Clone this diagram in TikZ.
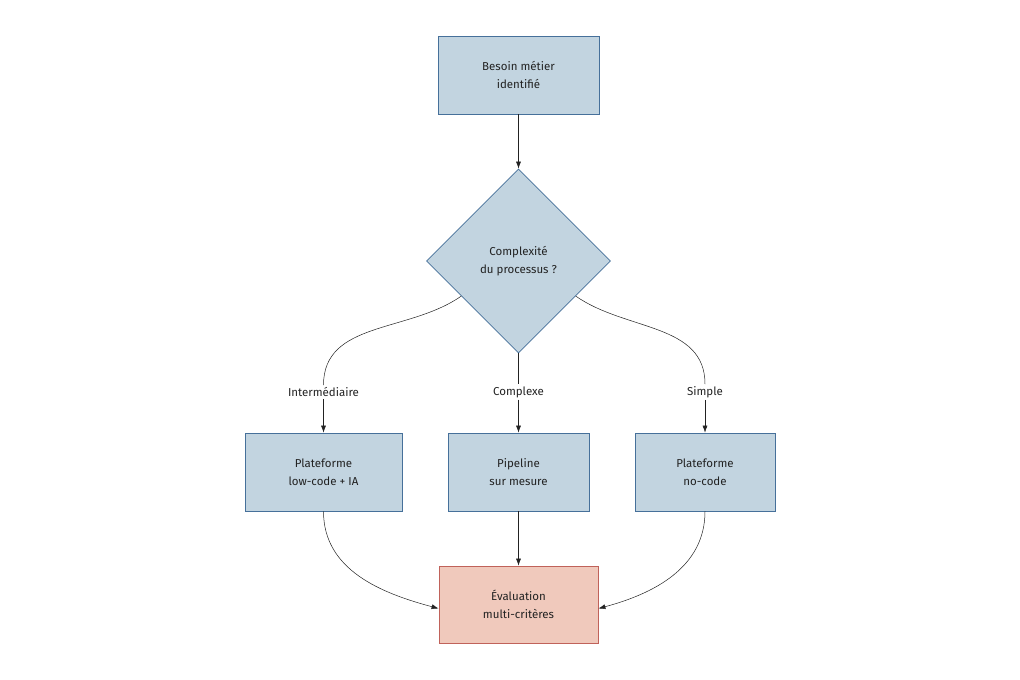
\documentclass[tikz,border=0pt]{standalone}
\usepackage{fontspec}
\setmainfont{Fira Sans}
\usetikzlibrary{shapes.geometric,arrows.meta,calc}
\definecolor{bfill}{HTML}{C2D4E0}
\definecolor{bdraw}{HTML}{46709A}
\definecolor{rfill}{HTML}{F0C9BC}
\definecolor{rdraw}{HTML}{C0625A}
\definecolor{txt}{HTML}{222222}
\begin{document}
\begin{tikzpicture}[x=1pt,y=-1pt,
  box/.style={draw=bdraw,fill=bfill,line width=0.8pt,minimum height=78pt,align=center,text=txt,font=\fontsize{11.5}{18}\selectfont,inner sep=0pt},
  rbox/.style={box,draw=rdraw,fill=rfill},
  lbl/.style={text=txt,font=\fontsize{11.5}{14}\selectfont,inner sep=2pt},
  conn/.style={draw=txt,line width=0.5pt},
  arr/.style={conn,-{Latex[length=7pt,width=5pt]}}]
\useasboundingbox (0,0) rectangle (1020,680);
\node[box,minimum width=161pt] (top) at (518.5,75) {Besoin métier\\identifié};
\node[diamond,draw=bdraw,fill=bfill,line width=0.8pt,minimum width=184pt,minimum height=184pt,inner sep=0pt,align=center,text=txt,font=\fontsize{11.5}{18}\selectfont] (dia) at (518.5,261) {Complexité\\du processus ?};
\node[box,minimum width=157pt] (lc) at (323.5,472) {Plateforme\\low-code + IA};
\node[box,minimum width=141pt] (pm) at (518.5,472) {Pipeline\\sur mesure};
\node[box,minimum width=140pt] (nc) at (705,472) {Plateforme\\no-code};
\node[rbox,minimum width=159pt,minimum height=77pt] (ev) at (518.5,604.5) {Évaluation\\multi-critères};
\node[lbl] (l1) at (323.5,392) {Intermédiaire};
\node[lbl] (l2) at (518.5,392) {Complexe};
\node[lbl] (l3) at (705,392) {Simple};
\coordinate (dl) at ($(dia.west)!0.38!(dia.south)$);
\coordinate (dr) at ($(dia.east)!0.38!(dia.south)$);
\draw[arr] (top) -- (dia.north);
\draw[conn] (dl) to[out=-145,in=90] (l1.north);
\draw[arr] (l1.south) -- (lc.north);
\draw[conn] (dia.south) -- (l2.north);
\draw[arr] (l2.south) -- (pm.north);
\draw[conn] (dr) to[out=-35,in=90] (l3.north);
\draw[arr] (l3.south) -- (nc.north);
\draw[arr] (lc.south) to[out=-90,in=165] ([yshift=-4pt]ev.west);
\draw[arr] (pm.south) -- (ev.north);
\draw[arr] (nc.south) to[out=-90,in=15] ([yshift=-4pt]ev.east);
\end{tikzpicture}
\end{document}
